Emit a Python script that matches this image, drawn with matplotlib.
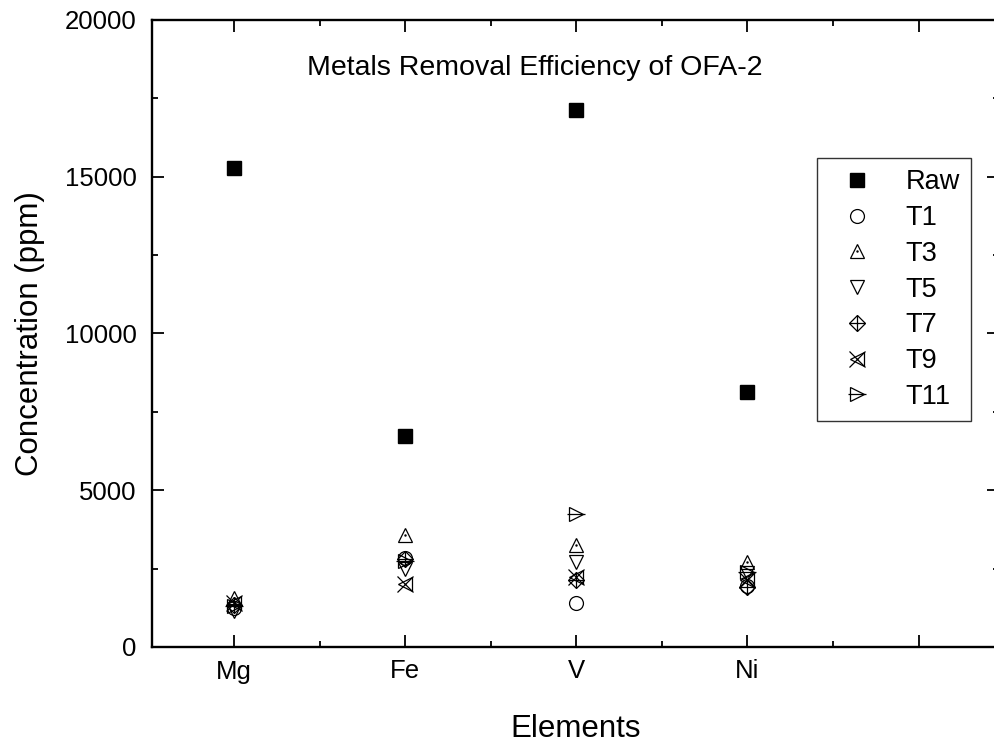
import matplotlib
matplotlib.use("Agg")
import matplotlib.pyplot as plt
from matplotlib.ticker import MultipleLocator, FixedLocator

plt.rcParams['font.family'] = ['Liberation Sans', 'DejaVu Sans']

elements = ["Mg", "Fe", "V", "Ni"]
raw = [15280, 6730, 17130, 8130]
t1 = [1250, 2850, 1400, 1950]
t3 = [1550, 3570, 3250, 2700]
t5 = [1150, 2500, 2710, 2350]
t7 = [1350, 2800, 2140, 1900]
t9 = [1400, 2000, 2230, 2150]
t11 = [1300, 2750, 4240, 2400]

x = list(range(1, len(elements) + 1))

L, R, T, B = 152, 999, 20, 647
fig = plt.figure(figsize=(9.94, 7.44), dpi=100)
ax = fig.add_axes([L/994, 1 - B/744, (R - L)/994, (B - T)/744])

ms = 10
kw = dict(linestyle='none', color='black', markerfacecolor='none', markeredgewidth=0.9)

h_raw, = ax.plot(x, raw, marker='s', linestyle='none', color='black', markersize=9.5)
h_t1, = ax.plot(x, t1, marker='o', markersize=ms, **kw)
h_t3a, = ax.plot(x, t3, marker='^', markersize=ms, **kw)
h_t3b, = ax.plot(x, t3, marker='.', markersize=1.5, linestyle='none', color='black')
h_t5, = ax.plot(x, t5, marker='v', markersize=ms, **kw)
h_t7a, = ax.plot(x, t7, marker='D', markersize=ms*0.85, **kw)
h_t7b, = ax.plot(x, t7, marker='+', markersize=ms*1.15, **kw)
h_t9a, = ax.plot(x, t9, marker='x', markersize=ms*1.1, **kw)
h_t9b, = ax.plot(x, t9, marker='<', markersize=ms, **kw)
h_t11a, = ax.plot(x, t11, marker='>', markersize=ms, **kw)
h_t11b, = ax.plot(x, t11, marker='_', markersize=ms*1.3, **kw)

ax.set_xlim(0.521, 5.47)
ax.set_ylim(0, 20000)
ax.xaxis.set_major_locator(FixedLocator([1, 2, 3, 4, 5]))
ax.set_xticklabels(elements + [""])
ax.xaxis.set_minor_locator(FixedLocator([1.5, 2.5, 3.5, 4.5]))
ax.yaxis.set_major_locator(MultipleLocator(5000))
ax.yaxis.set_minor_locator(MultipleLocator(2500))

ax.tick_params(which='both', direction='in', top=True, right=True, width=1.3)
ax.tick_params(which='major', length=8.5, labelsize=18.5)
ax.tick_params(which='minor', length=4.5)
ax.tick_params(axis='y', which='major', pad=11)
ax.tick_params(axis='x', which='major', pad=9)
for s in ax.spines.values():
    s.set_linewidth(1.7)

ax.set_xlabel("Elements", fontsize=22.5, labelpad=22)
ax.set_ylabel("Concentration (ppm)", fontsize=22.5, labelpad=14)
ax.text((535 - L)/(R - L), 1 - (68 - T)/(B - T), "Metals Removal Efficiency of OFA-2",
        transform=ax.transAxes, ha='center', va='center', fontsize=20.5)

handles = [h_raw, h_t1, (h_t3a, h_t3b), h_t5, (h_t7a, h_t7b), (h_t9a, h_t9b), (h_t11a, h_t11b)]
labels = ["Raw", "T1", "T3", "T5", "T7", "T9", "T11"]
leg = ax.legend(handles, labels, loc='upper left',
                bbox_to_anchor=((817 - L)/(R - L), 1 - (158 - T)/(B - T)),
                borderaxespad=0, fontsize=19.5, frameon=True, fancybox=False, edgecolor='black',
                handlelength=2.1, handletextpad=0.75, labelspacing=0.36, borderpad=0.42)
leg.get_frame().set_linewidth(1.0)

fig.savefig("out.png", dpi=100)
